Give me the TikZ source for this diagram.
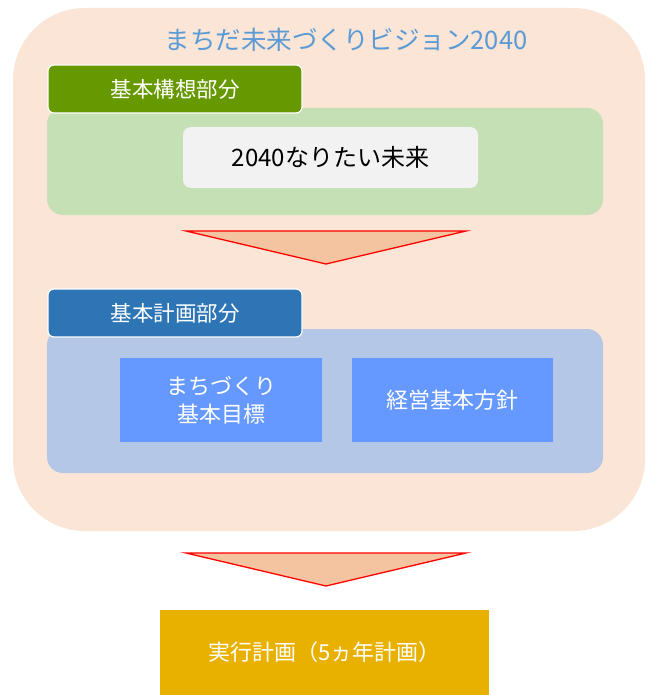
\documentclass[tikz,border=0pt]{standalone}
\usepackage{fontspec}
\setmainfont{Noto Sans CJK JP}
\begin{document}
\begin{tikzpicture}[x=1pt,y=-1pt,
  box/.style={inner sep=0pt, outer sep=0pt, align=center, font=\fontsize{22}{28}\selectfont},
  arrowtri/.style={fill=arrowfill, draw=red, line width=1.3pt, line join=miter},
  tag/.style={box, draw=white, line width=1.2pt, rounded corners=6pt, text=white, font=\fontsize{21.5}{26}\selectfont},
  panel/.style={box, rounded corners=16pt},
  inner/.style={box, fill=boxblue, text=white}
]
\definecolor{peach}{HTML}{FBE5D6}
\definecolor{tagGreen}{HTML}{669900}
\definecolor{panelGreen}{HTML}{C5E0B4}
\definecolor{grayBox}{HTML}{F2F2F2}
\definecolor{arrowfill}{HTML}{F4C4A0}
\definecolor{tagBlue}{HTML}{2E75B6}
\definecolor{panelBlue}{HTML}{B4C7E7}
\definecolor{boxblue}{HTML}{6699FF}
\definecolor{gold}{HTML}{E8B100}
\definecolor{titleBlue}{HTML}{5B9BD5}
\useasboundingbox (0,0) rectangle (651,695);
\fill[white] (0,0) rectangle (651,695);
% outer peach area
\node[panel, fill=peach, rounded corners=72pt, minimum width=632pt, minimum height=523pt, anchor=north west] (outer) at (13,8) {};
\node[text=titleBlue, font=\fontsize{25.5}{30}\selectfont, inner sep=0pt] (title) at (346,40) {まちだ未来づくりビジョン2040};
% vision part
\node[panel, fill=panelGreen, minimum width=556pt, minimum height=107pt, anchor=north west] (gpanel) at (47,108) {};
\node[tag, fill=tagGreen, minimum width=254pt, minimum height=48pt, anchor=north west] (gtag) at (48,65) {基本構想部分};
\node[box, fill=grayBox, rounded corners=8pt, minimum width=295pt, minimum height=61pt, anchor=north west, font=\fontsize{24}{28}\selectfont] (future) at (183,127) {2040なりたい未来};
% arrow 1
\coordinate (a1l) at (186,231);
\coordinate (a1r) at (466,231);
\coordinate (a1t) at (326,264);
\draw[arrowtri] (a1l) -- (a1r) -- (a1t) -- cycle;
% plan part
\node[panel, fill=panelBlue, minimum width=556pt, minimum height=144pt, anchor=north west] (bpanel) at (47,329) {};
\node[tag, fill=tagBlue, minimum width=254pt, minimum height=48pt, anchor=north west] (btag) at (48,289) {基本計画部分};
\node[inner, minimum width=202pt, minimum height=84pt, anchor=north west] (goal) at (120,358) {まちづくり\\基本目標};
\node[inner, minimum width=201pt, minimum height=84pt, anchor=north west] (policy) at (352,358) {経営基本方針};
% arrow 2
\coordinate (a2l) at (186,553);
\coordinate (a2r) at (466,553);
\coordinate (a2t) at (326,586);
\draw[arrowtri] (a2l) -- (a2r) -- (a2t) -- cycle;
% action plan
\node[box, fill=gold, text=white, minimum width=329pt, minimum height=85pt, anchor=north west] (action) at (160,610) {実行計画（5ヵ年計画）};
\end{tikzpicture}
\end{document}
